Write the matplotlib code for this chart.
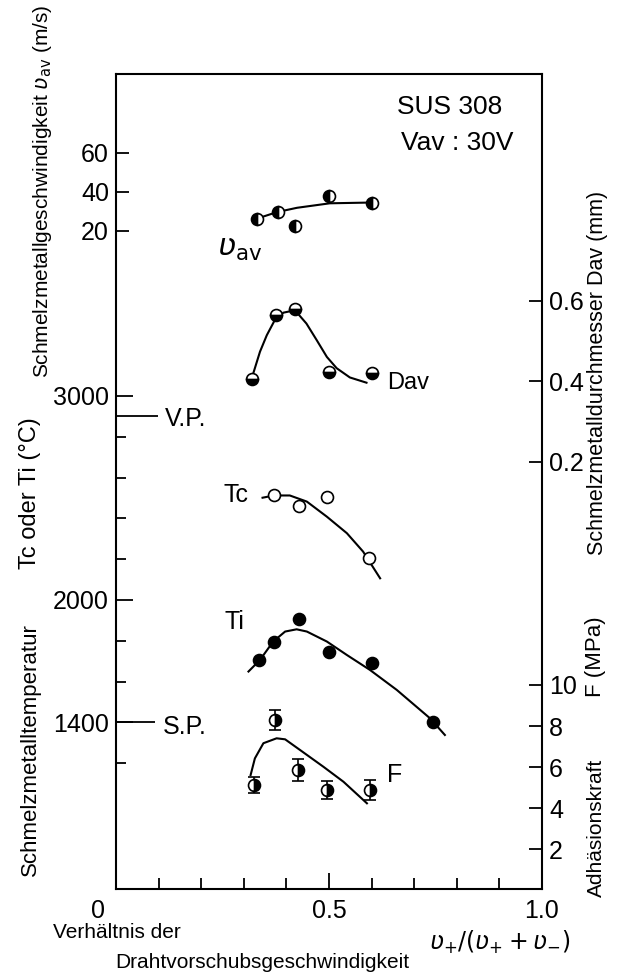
import numpy as np
import matplotlib
matplotlib.use('Agg')
import matplotlib.pyplot as plt
from matplotlib.transforms import ScaledTranslation

plt.rcParams['font.family'] = ['Liberation Sans', 'DejaVu Sans']
plt.rcParams['mathtext.fontset'] = 'dejavusans'

# measured points, x = v+/(v+ + v-)
x_vav = [0.33, 0.38, 0.42, 0.50, 0.60]
vav = [26.2, 29.7, 22.6, 37.9, 34.4]
x_d = [0.32, 0.375, 0.42, 0.50, 0.60]
d_av = [0.404, 0.564, 0.578, 0.423, 0.421]
x_tc = [0.37, 0.43, 0.495, 0.595]
t_c = [2515, 2461, 2503, 2204]
x_ti = [0.335, 0.37, 0.43, 0.50, 0.60, 0.745]
t_i = [1706, 1796, 1905, 1747, 1690, 1403]
x_f = [0.325, 0.373, 0.428, 0.495, 0.596]
f_val = [5.12, 8.29, 5.85, 4.88, 4.88]
f_err = [0.37, 0.5, 0.52, 0.43, 0.5]

# hand drawn fit curves
cx_vav = [0.329, 0.378, 0.425, 0.502, 0.601]
cy_vav = [26.2, 29.7, 31.9, 34.2, 34.6]
cx_d = [0.321, 0.338, 0.354, 0.373, 0.393, 0.42, 0.447, 0.471, 0.495, 0.518, 0.549, 0.588]
cy_d = [0.415, 0.473, 0.514, 0.552, 0.570, 0.576, 0.543, 0.502, 0.460, 0.432, 0.409, 0.396]
cx_tc = [0.344, 0.371, 0.408, 0.448, 0.495, 0.542, 0.58, 0.62]
cy_tc = [2501, 2512, 2512, 2482, 2408, 2327, 2237, 2106]
cx_ti = [0.311, 0.338, 0.369, 0.397, 0.424, 0.448, 0.495, 0.542, 0.596, 0.659, 0.737, 0.772]
cy_ti = [1649, 1706, 1796, 1845, 1856, 1845, 1796, 1730, 1657, 1559, 1420, 1338]
cx_f = [0.316, 0.326, 0.346, 0.377, 0.397, 0.432, 0.487, 0.534, 0.589]
cy_f = [5.61, 6.42, 7.16, 7.40, 7.35, 6.83, 6.01, 5.28, 4.23]

vp = 2900
sp = 1400

W, H = 626, 973


def fx(px):
    return px / W


def fy(py):
    return 1 - py / H


fig = plt.figure(figsize=(W / 100, H / 100), dpi=100)
pos = [fx(116), fy(889), 426 / W, 815 / H]
ax = fig.add_axes(pos)
ax_v = fig.add_axes(pos)
ax_d = fig.add_axes(pos)
ax_f = fig.add_axes(pos)

lw = 1.5
ms = 8.6

# temperature axis
ax.set_xlim(0, 1)
ax.set_ylim(583, 4578)
ax.set_xticks([0, 0.5, 1.0])
ax.set_xticklabels(['0', '0.5', '1.0'])
ax.set_xticks([0.1, 0.2, 0.3, 0.4, 0.6, 0.7, 0.8, 0.9], minor=True)
ax.set_yticks([1400, 2000, 3000])
ax.set_yticks([1200, 1600, 1800, 2200, 2400, 2600, 2800], minor=True)
ax.tick_params(which='both', direction='in', width=1.3, labelsize=18, pad=5)
ax.tick_params(axis='y', which='major', length=12)
ax.tick_params(axis='y', which='minor', length=7)
ax.tick_params(axis='x', which='major', length=11.5, pad=7)
ax.tick_params(axis='x', which='minor', length=8)
lab0 = ax.xaxis.get_majorticklabels()[0]
lab0.set_transform(lab0.get_transform() + ScaledTranslation(-0.18, 0, fig.dpi_scale_trans))
for s in ax.spines.values():
    s.set_linewidth(1.5)

ax.hlines(vp, 0, 0.099, color='k', lw=1.3)
ax.hlines(sp, 0, 0.092, color='k', lw=1.3)
ax.text(0.115, vp - 15, 'V.P.', fontsize=18, va='center')
ax.text(0.110, sp - 25, 'S.P.', fontsize=18, va='center')

ax.plot(cx_tc, cy_tc, color='k', lw=lw)
ax.plot(x_tc, t_c, 'o', ms=ms, mfc='white', mec='k', mew=1.2)
ax.plot(cx_ti, cy_ti, color='k', lw=lw)
ax.plot(x_ti, t_i, 'o', ms=ms, mfc='k', mec='k', mew=1.2)
ax.text(0.282, 2515, 'Tc', fontsize=18, ha='center', va='center')
ax.text(0.279, 1892, 'Ti', fontsize=18, ha='center', va='center')

# overlay axes
for a in (ax_v, ax_d, ax_f):
    a.patch.set_visible(False)
    for s in a.spines.values():
        s.set_visible(False)
    a.set_xlim(0, 1)
    a.set_xticks([])

ax_v.set_ylim(-317.4, 100.5)
ax_v.set_yticks([20, 40, 60])
ax_v.tick_params(axis='y', direction='in', length=9.5, width=1.3, labelsize=18, pad=5)
ax_v.plot(cx_vav, cy_vav, color='k', lw=lw)
ax_v.plot(x_vav, vav, 'o', ms=ms, fillstyle='left', mfc='k', mfcalt='white',
          mec='k', mew=1.2)
ax_v.text(0.291, 11.3, r'$ʋ_{\mathrm{av}}$', fontsize=22, ha='center', va='center')

ax_d.set_ylim(-0.862, 1.163)
ax_d.set_yticks([0.2, 0.4, 0.6])
ax_d.yaxis.tick_right()
ax_d.tick_params(axis='y', direction='in', length=9.5, width=1.3, labelsize=18, pad=5)
ax_d.plot(cx_d, cy_d, color='k', lw=lw)
ax_d.plot(x_d, d_av, 'o', ms=ms, fillstyle='bottom', mfc='k', mfcalt='white',
          mec='k', mew=1.2)
ax_d.text(0.685, 0.395, 'Dav', fontsize=17, ha='center', va='center')

ax_f.set_ylim(0.05, 39.8)
ax_f.set_yticks([2, 4, 6, 8, 10])
ax_f.yaxis.tick_right()
ax_f.tick_params(axis='y', direction='in', length=9.5, width=1.3, labelsize=18, pad=5)
ax_f.plot(cx_f, cy_f, color='k', lw=lw)
ax_f.errorbar(x_f, f_val, yerr=f_err, fmt='none', ecolor='k', elinewidth=1.2,
              capsize=4, capthick=1.2)
ax_f.plot(x_f, f_val, 'o', ms=ms, fillstyle='right', mfc='k', mfcalt='white',
          mec='k', mew=1.2)
ax_f.text(0.655, 5.6, 'F', fontsize=18, ha='center', va='center')

# outer texts
fig.text(fx(450), fy(107), 'SUS 308', fontsize=19, ha='center', va='center')
fig.text(fx(457), fy(143), 'Vav : 30V', fontsize=19, ha='center', va='center')

fig.text(fx(43), fy(191), r'Schmelzmetallgeschwindigkeit $ʋ_{\mathrm{av}}$ (m/s)',
         fontsize=15, rotation=90, ha='center', va='center')
fig.text(fx(30), fy(493), 'Tc oder Ti (°C)', fontsize=17, rotation=90,
         ha='center', va='center')
fig.text(fx(30), fy(750), 'Schmelzmetalltemperatur', fontsize=16, rotation=90,
         ha='center', va='center')
fig.text(fx(598), fy(373), 'Schmelzmetalldurchmesser Dav (mm)', fontsize=15.5,
         rotation=90, ha='center', va='center')
fig.text(fx(596), fy(828), 'Adhäsionskraft', fontsize=15, rotation=90,
         ha='center', va='center')
fig.text(fx(596), fy(657), 'F (MPa)', fontsize=16, rotation=90,
         ha='center', va='center')

fig.text(fx(53), fy(933), 'Verhältnis der', fontsize=15, ha='left', va='center')
fig.text(fx(115), fy(962), 'Drahtvorschubsgeschwindigkeit', fontsize=15,
         ha='left', va='center')
fig.text(fx(500), fy(942), r'$ʋ_{+}/(ʋ_{+}+ʋ_{-})$', fontsize=17,
         ha='center', va='center')

fig.savefig('out.png', dpi=100)
